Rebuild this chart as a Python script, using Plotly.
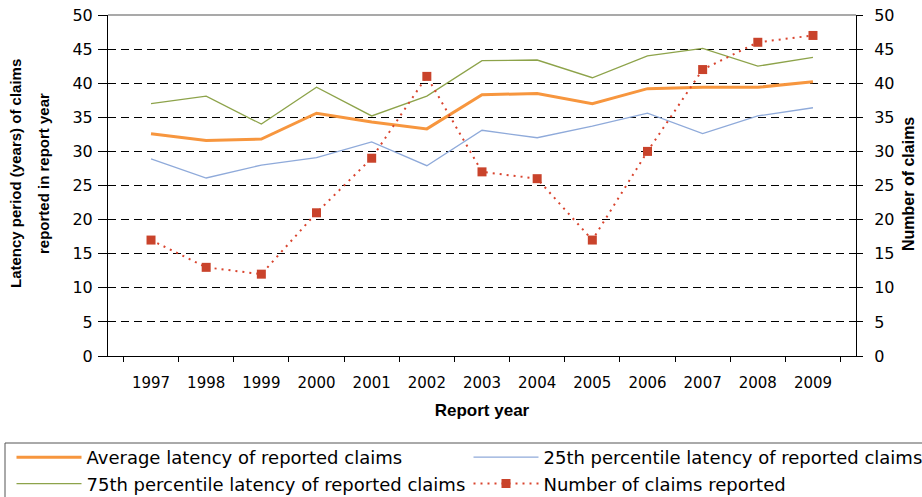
import plotly.graph_objects as go

years = ["1997", "1998", "1999", "2000", "2001", "2002", "2003",
         "2004", "2005", "2006", "2007", "2008", "2009"]
avg_latency = [32.6, 31.6, 31.8, 35.6, 34.3, 33.3, 38.3, 38.5, 37.0, 39.2, 39.4, 39.4, 40.2]
p25_latency = [28.9, 26.1, 28.0, 29.1, 31.4, 27.9, 33.1, 32.0, 33.7, 35.6, 32.6, 35.2, 36.4]
p75_latency = [37.0, 38.1, 34.0, 39.4, 35.2, 38.1, 43.3, 43.4, 40.8, 44.0, 45.1, 42.5, 43.8]
num_claims = [17, 13, 12, 21, 29, 41, 27, 26, 17, 30, 42, 46, 47]

FONT = "DejaVu Sans, sans-serif"
BOLD = "Liberation Sans, Arial, sans-serif"

PL, PR, PT, PB = 108, 856, 15, 356  # plot area in page pixels
W, H = 922, 497


def px_x(px):
    return (px - PL) / (PR - PL)


def px_y(py):
    return (PB - py) / (PB - PT)


fig = go.Figure()
fig.add_trace(go.Scatter(x=years, y=avg_latency, name="Average latency of reported claims",
                         mode="lines", line=dict(color="#F7963E", width=3), legend="legend"))
fig.add_trace(go.Scatter(x=years, y=p25_latency, name="25th percentile latency of reported claims",
                         mode="lines", line=dict(color="#8FAADA", width=1.3), legend="legend2"))
fig.add_trace(go.Scatter(x=years, y=p75_latency, name="75th percentile latency of reported claims",
                         mode="lines", line=dict(color="#8DA34A", width=1.3), legend="legend"))
fig.add_trace(go.Scatter(x=years, y=num_claims, name="Number of claims reported", yaxis="y2",
                         mode="lines+markers", legend="legend2",
                         line=dict(color="#D9442E", width=2, dash="2px,5px"),
                         marker=dict(symbol="square", size=9, color="#C9432B")))

legend_common = dict(
    orientation="v", xref="paper", yref="paper", yanchor="top", xanchor="left",
    itemwidth=65, borderwidth=0, bgcolor="rgba(0,0,0,0)",
    font=dict(size=18), tracegroupgap=0, y=px_y(439),
)

fig.update_layout(
    width=W, height=H,
    margin=dict(l=PL, r=W - PR, t=PT, b=H - PB, autoexpand=False),
    paper_bgcolor="white", plot_bgcolor="white",
    font=dict(family=FONT, size=15, color="black"),
    showlegend=True,
    xaxis=dict(
        type="category", tickson="boundaries", ticks="outside", ticklen=5,
        tickcolor="black", showline=True, linecolor="black", linewidth=1,
        showgrid=False, tickfont=dict(size=15), automargin=False, ticklabelstandoff=13,
        title=dict(text="<b>Report year</b>", font=dict(family=BOLD, size=17), standoff=13),
    ),
    yaxis=dict(
        range=[0, 50], dtick=5, ticks="outside", ticklen=9, tickcolor="black",
        showline=True, linecolor="black", linewidth=1, ticklabelstandoff=2,
        showgrid=True, gridcolor="black", gridwidth=1, griddash="8px,5px",
        zeroline=False, tickfont=dict(size=16), automargin=False,
    ),
    yaxis2=dict(
        range=[0, 50], dtick=5, overlaying="y", side="right",
        ticks="outside", ticklen=6, tickcolor="black", ticklabelstandoff=8,
        showline=True, linecolor="black", linewidth=1,
        showgrid=False, zeroline=False, tickfont=dict(size=16), automargin=False,
    ),
    legend=dict(legend_common, x=px_x(11.5)),
    legend2=dict(legend_common, x=px_x(468.5)),
    shapes=[
        dict(type="line", xref="paper", yref="paper", x0=0, x1=1, y0=1, y1=1,
             line=dict(color="#8C8C8C", width=1.5)),
        dict(type="rect", xref="paper", yref="paper",
             x0=px_x(5), x1=px_x(935), y0=px_y(443), y1=px_y(510),
             line=dict(color="#555555", width=1), fillcolor="rgba(0,0,0,0)"),
    ],
    annotations=[
        dict(text="<b>Latency period (years) of claims</b>", textangle=-90,
             xref="paper", yref="paper", x=px_x(15), y=px_y(174),
             xanchor="center", yanchor="middle", showarrow=False,
             font=dict(family=BOLD, size=15)),
        dict(text="<b>reported in report year</b>", textangle=-90,
             xref="paper", yref="paper", x=px_x(43), y=px_y(174),
             xanchor="center", yanchor="middle", showarrow=False,
             font=dict(family=BOLD, size=15)),
        dict(text="<b>Number of claims</b>", textangle=-90,
             xref="paper", yref="paper", x=px_x(908), y=px_y(184),
             xanchor="center", yanchor="middle", showarrow=False,
             font=dict(family=BOLD, size=16)),
    ],
)

fig.write_html("out.html", config={"displayModeBar": False},
               post_script="document.body.style.margin='0px';")
